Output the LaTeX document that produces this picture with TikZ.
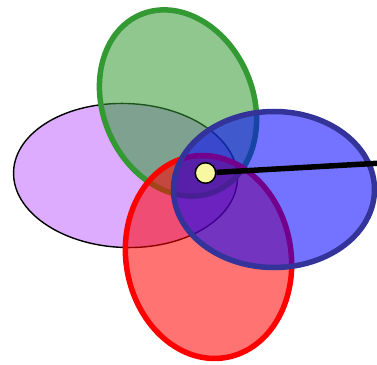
\documentclass[tikz,border=0pt]{standalone}
\usepackage{tikz}
\usetikzlibrary{arrows.meta, positioning}
\usepackage{xcolor}

\definecolor{lilac}{RGB}{221,172,255}
\definecolor{leafline}{RGB}{51,153,51}
\definecolor{leaffill}{RGB}{51,153,51}
\definecolor{navyline}{RGB}{51,51,153}
\definecolor{bluefill}{RGB}{0,0,255}
\definecolor{redfill}{RGB}{255,0,0}
\definecolor{pale}{RGB}{248,248,160}

\begin{document}
\begin{tikzpicture}[x=1pt,y=1pt,
    lobe/.style={line width=5.5pt,fill opacity=0.55},
    pin/.style={draw,circle,fill=pale,line width=1.5pt,minimum size=20.5pt,inner sep=0pt},
    bar/.style={line width=5.5pt}]
    \useasboundingbox (0,0) rectangle (377,364);
    % four lobes
    \draw[fill=lilac,line width=1.4pt] (125.5,188.5) ellipse [x radius=112,y radius=72,rotate=-2];
    \draw[lobe,draw=leafline,fill=leaffill] (178,261) ellipse [x radius=75,y radius=96,rotate=23];
    \draw[lobe,draw=red,fill=redfill] (208.5,107) ellipse [x radius=82.5,y radius=102,rotate=10];
    \draw[lobe,draw=navyline,fill=bluefill] (274,174.5) ellipse [x radius=100.5,y radius=78];
    % hub and arm
    \coordinate (tip) at (377,200.7);
    \node[pin] (hub) at (205.5,191) {};
    \draw[bar] (hub) -- (tip);
\end{tikzpicture}
\end{document}
